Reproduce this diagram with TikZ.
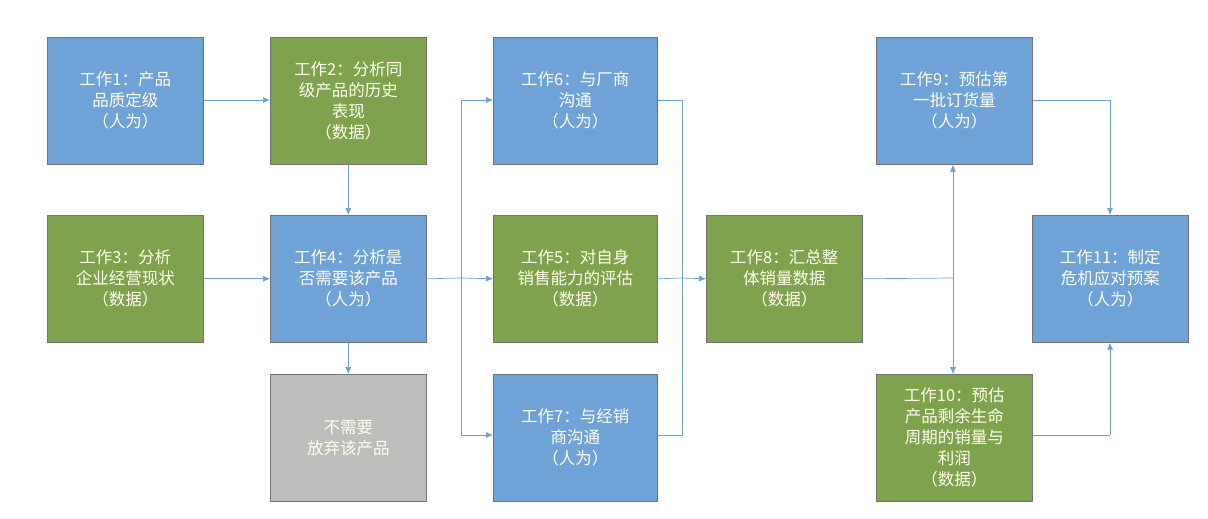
\documentclass[tikz,border=0pt]{standalone}
\usepackage{fontspec}
\setmainfont{Noto Sans CJK SC}
\usetikzlibrary{arrows.meta}
\definecolor{bl}{HTML}{6FA2D6}
\definecolor{gr}{HTML}{7FA24F}
\definecolor{gy}{HTML}{BDBDBC}
\definecolor{ln}{HTML}{6A9FD3}
\tikzset{
 box/.style={draw=black!55,line width=0.6pt,minimum width=156pt,minimum height=127pt,text width=130pt,align=center,text=white!92!yellow,font=\fontsize{16.5}{21}\selectfont,anchor=north west,inner sep=0pt},
 bb/.style={box,fill=bl}, gb/.style={box,fill=gr}, yb/.style={box,fill=gy},
 con/.style={draw=ln,line width=0.7pt,-{Latex[length=7pt,width=6pt]}},
 ln/.style={draw=ln,line width=0.7pt}
}
\begin{document}
\begin{tikzpicture}[x=1pt,y=-1pt]
\useasboundingbox (0,0) rectangle (1208,519);
\node[bb] (n1) at (47,37) {工作1：产品\\品质定级\\（人为）};
\node[gb] (n2) at (270,37) {工作2：分析同\\级产品的历史\\表现\\（数据）};
\node[bb,minimum width=164pt] (n6) at (493,37) {工作6：与厂商\\沟通\\（人为）};
\node[bb] (n9) at (876,37) {工作9：预估第\\一批订货量\\（人为）};
\node[gb] (n3) at (47,215) {工作3：分析\\企业经营现状\\（数据）};
\node[bb] (n4) at (270,215) {工作4：分析是\\否需要该产品\\（人为）};
\node[gb,minimum width=164pt] (n5) at (493,215) {工作5：对自身\\销售能力的评估\\（数据）};
\node[gb] (n8) at (706,215) {工作8：汇总整\\体销量数据\\（数据）};
\node[bb] (n11) at (1032,215) {工作11：制定\\危机应对预案\\（人为）};
\node[yb] (n0) at (270,374) {不需要\\放弃该产品};
\node[bb,minimum width=164pt] (n7) at (493,374) {工作7：与经销\\商沟通\\（人为）};
\node[gb] (n10) at (876,374) {工作10：预估\\产品剩余生命\\周期的销量与\\利润\\（数据）};
\coordinate (s) at (461,278);
\coordinate (s6) at (461,100);
\coordinate (s7) at (461,435);
\coordinate (m6) at (682,100);
\coordinate (m7) at (682,435);
\coordinate (m) at (682,278);
\coordinate (j) at (953,278);
\coordinate (a9) at (1110,100);
\coordinate (a10) at (1110,435);
\draw[con] (n1.east |- 0,100) -- (n2.west |- 0,100);
\draw[con] (n2) -- (n4);
\draw[con] (n3) -- (n4);
\draw[con] (n4) -- (n0);
\draw[ln] (n4.east) -- (s);
\draw[ln] (s6) -- (s7);
\draw[con] (s6) -- (n6.west |- s6);
\draw[con] (s) -- (n5.west);
\draw[con] (s7) -- (n7.west |- s7);
\draw[ln] (n6.east |- m6) -- (m6) -- (m7) -- (n7.east |- m7);
\draw[ln] (n5.east) -- (m);
\draw[con] (m) -- (n8.west);
\draw[ln] (n8.east) -- (j);
\draw[con] (j) -- (n9.south -| j);
\draw[con] (j) -- (n10.north -| j);
\draw[ln] (n9.east |- a9) -- (a9);
\draw[con] (a9) -- (n11.north -| a9);
\draw[ln] (n10.east |- a10) -- (a10);
\draw[con] (a10) -- (n11.south -| a10);
\end{tikzpicture}
\end{document}
